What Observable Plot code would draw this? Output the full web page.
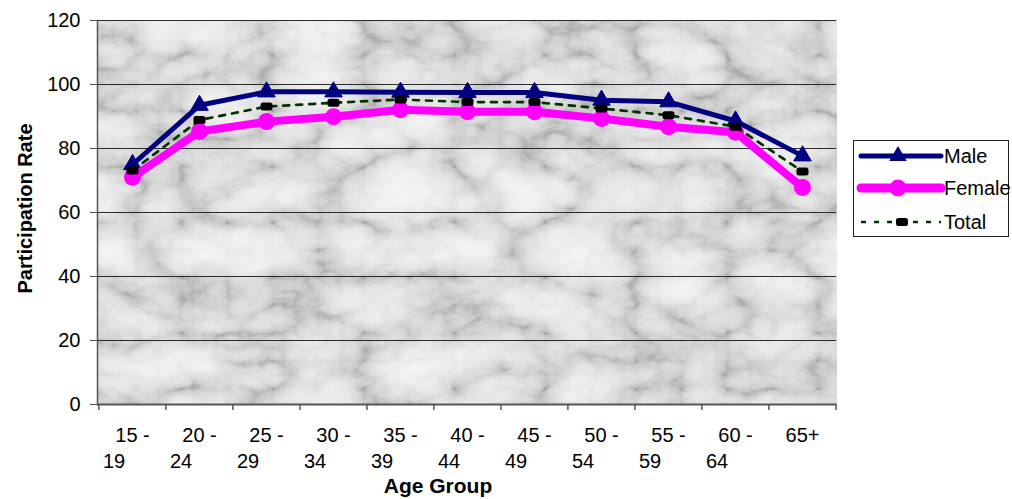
<!DOCTYPE html>
<html>
<head>
<meta charset="utf-8">
<script src="https://cdn.jsdelivr.net/npm/d3@7"></script>
<script src="https://cdn.jsdelivr.net/npm/@observablehq/plot@0.6"></script>
<style>
  html, body { margin: 0; padding: 0; background: #fff; }
  #chart svg { display: block; }
</style>
</head>
<body>
<div id="chart"></div>
<script>
// Labour force participation rate by age group
const ageGroups = ["15 - 19", "20 - 24", "25 - 29", "30 - 34", "35 - 39", "40 - 44",
                   "45 - 49", "50 - 54", "55 - 59", "60 - 64", "65+"];
const male   = [75.0, 93.5, 97.7, 97.7, 97.6, 97.5, 97.5, 95.1, 94.6, 88.6, 77.7];
const female = [71.0, 85.3, 88.4, 89.9, 92.1, 91.5, 91.5, 89.4, 86.8, 85.1, 67.8];
const total  = [73.1, 88.9, 93.1, 94.3, 95.3, 94.5, 94.5, 92.5, 90.4, 86.8, 72.8];
const yTicks = [0, 20, 40, 60, 80, 100, 120];
const seriesNames = ["Male", "Female", "Total"];
const xTitle = "Age Group";
const yTitle = "Participation Rate";

const rows = ageGroups.map((g, i) => ({group: g, male: male[i], female: female[i], total: total[i]}));

const W = 1012, H = 499, mL = 97, mR = 176, mT = 20, mB = 95;
const step = (W - mL - mR) / ageGroups.length;

const NAVY = "#000080", MAGENTA = "#ff00ff", GREEN = "#003300";
const FONT = "'Liberation Sans', Arial, sans-serif";

// rounded marker used by the Total series
const pill = {
  draw(ctx) {
    const w = 6, h = 4, r = 2.5;
    ctx.moveTo(-w + r, -h);
    ctx.lineTo(w - r, -h);
    ctx.arcTo(w, -h, w, -h + r, r);
    ctx.lineTo(w, h - r);
    ctx.arcTo(w, h, w - r, h, r);
    ctx.lineTo(-w + r, h);
    ctx.arcTo(-w, h, -w, h - r, r);
    ctx.lineTo(-w, -h + r);
    ctx.arcTo(-w, -h, -w + r, -h, r);
    ctx.closePath();
  }
};

const topLine = d => d.includes(" - ") ? d.split(" - ")[0] + " -" : d;
const bottomLine = d => d.includes(" - ") ? d.split(" - ")[1] : "";

const plot = Plot.plot({
  width: W, height: H,
  marginLeft: mL, marginRight: mR, marginTop: mT, marginBottom: mB,
  style: {fontFamily: FONT, fontSize: "20px", color: "#000", background: "transparent"},
  x: {type: "point", domain: ageGroups, padding: 0.5, axis: null},
  y: {domain: [0, 120]},
  marks: [
    Plot.frame({fill: "#e2e2e2", stroke: "none"}),
    Plot.ruleY(yTicks, {stroke: "#2a2a2a", strokeWidth: 1}),
    Plot.axisY({ticks: yTicks, tickSize: 7, tickPadding: 10, fontSize: 20, stroke: "#555", label: null}),
    Plot.ruleY([0], {stroke: "#555", strokeWidth: 2}),
    Plot.frame({anchor: "left", stroke: "#555", strokeWidth: 1.5}),
    // category boundary ticks under the x axis
    Plot.ruleX(ageGroups, {x: d => d, dx: -step / 2, y1: 0, y2: 0, insetBottom: -6, stroke: "#555", strokeWidth: 1.5}),
    Plot.ruleX([ageGroups[ageGroups.length - 1]], {x: d => d, dx: step / 2, y1: 0, y2: 0, insetBottom: -6, stroke: "#555", strokeWidth: 1.5}),
    // two-line category labels
    Plot.text(ageGroups, {x: d => d, text: topLine, frameAnchor: "bottom", lineAnchor: "middle", dy: 30.6, textAnchor: "middle", fontSize: 20}),
    Plot.text(ageGroups, {x: d => d, text: bottomLine, frameAnchor: "bottom", lineAnchor: "middle", dy: 57.3, dx: -29.5, textAnchor: "start", fontSize: 20}),
    // axis titles
    Plot.text([xTitle], {frameAnchor: "bottom", lineAnchor: "middle", textAnchor: "middle", dx: -29, dy: 82, fontWeight: "bold", fontSize: 21}),
    Plot.text([yTitle], {frameAnchor: "left", lineAnchor: "middle", textAnchor: "middle", dx: -71.7, dy: -4, rotate: -90, fontWeight: "bold", fontSize: 20}),
    // series
    Plot.line(rows, {x: "group", y: "male", stroke: NAVY, strokeWidth: 5, strokeLinejoin: "round"}),
    Plot.dot(rows, {x: "group", y: "male", symbol: "triangle", r: 6.5, fill: NAVY, stroke: NAVY, strokeWidth: 1}),
    Plot.line(rows, {x: "group", y: "female", stroke: MAGENTA, strokeWidth: 8, strokeLinejoin: "round"}),
    Plot.dot(rows, {x: "group", y: "female", r: 8.5, fill: MAGENTA}),
    Plot.line(rows, {x: "group", y: "total", stroke: GREEN, strokeWidth: 2.7, strokeDasharray: "6,7"}),
    Plot.dot(rows, {x: "group", y: "total", symbol: pill, fill: "#000"})
  ]
});

document.getElementById("chart").appendChild(plot);

// marble texture for the plotting area
const svg = d3.select(plot);
const defs = svg.insert("defs", ":first-child");
const f = defs.append("filter").attr("id", "marble")
  .attr("x", 0).attr("y", 0).attr("width", 1).attr("height", 1)
  .attr("color-interpolation-filters", "sRGB");
f.append("feTurbulence").attr("type", "turbulence")
  .attr("baseFrequency", "0.011 0.018").attr("numOctaves", 5).attr("seed", 4).attr("result", "t");
f.append("feColorMatrix").attr("type", "matrix")
  .attr("values", "1 0 0 0 0  1 0 0 0 0  1 0 0 0 0  0 0 0 0 1").attr("result", "g");
const ct = f.append("feComponentTransfer");
const tbl = "0.64 0.79 0.86 0.9 0.93 0.95 0.96 0.97";
ct.append("feFuncR").attr("type", "table").attr("tableValues", tbl);
ct.append("feFuncG").attr("type", "table").attr("tableValues", tbl);
ct.append("feFuncB").attr("type", "table").attr("tableValues", tbl);
const frameEl = plot.querySelector('[aria-label="frame"]');
if (frameEl) {
  const r = frameEl.tagName.toLowerCase() === "rect" ? frameEl : frameEl.querySelector("rect");
  if (r) r.setAttribute("filter", "url(#marble)");
}

// legend
const lg = svg.append("g").attr("font-family", FONT).attr("font-size", 20).attr("text-anchor", "start");
lg.append("rect").attr("x", 853.5).attr("y", 140.5).attr("width", 155).attr("height", 96)
  .attr("fill", "#fff").attr("stroke", "#222").attr("stroke-width", 1);
const entries = [
  {name: seriesNames[0], y: 156, stroke: NAVY, width: 5, dash: null},
  {name: seriesNames[1], y: 188, stroke: MAGENTA, width: 9, dash: null},
  {name: seriesNames[2], y: 222, stroke: GREEN, width: 2.7, dash: "5,8"}
];
entries.forEach((e, i) => {
  lg.append("line").attr("x1", 861).attr("x2", 941).attr("y1", e.y).attr("y2", e.y)
    .attr("stroke", e.stroke).attr("stroke-width", e.width)
    .attr("stroke-linecap", e.dash ? "butt" : "round")
    .attr("stroke-dasharray", e.dash);
  if (i === 0) {
    lg.append("path").attr("d", d3.symbol(d3.symbolTriangle, Math.PI * 6.5 * 6.5)())
      .attr("transform", `translate(898,${e.y})`).attr("fill", NAVY);
  } else if (i === 1) {
    lg.append("circle").attr("cx", 898).attr("cy", e.y).attr("r", 8.5).attr("fill", MAGENTA);
  } else {
    lg.append("path").attr("d", d3.symbol(pill)()).attr("transform", `translate(902,${e.y})`).attr("fill", "#000");
  }
  lg.append("text").attr("x", 944).attr("y", e.y).attr("dy", "0.35em").attr("fill", "#000").text(e.name);
});
</script>
</body>
</html>
